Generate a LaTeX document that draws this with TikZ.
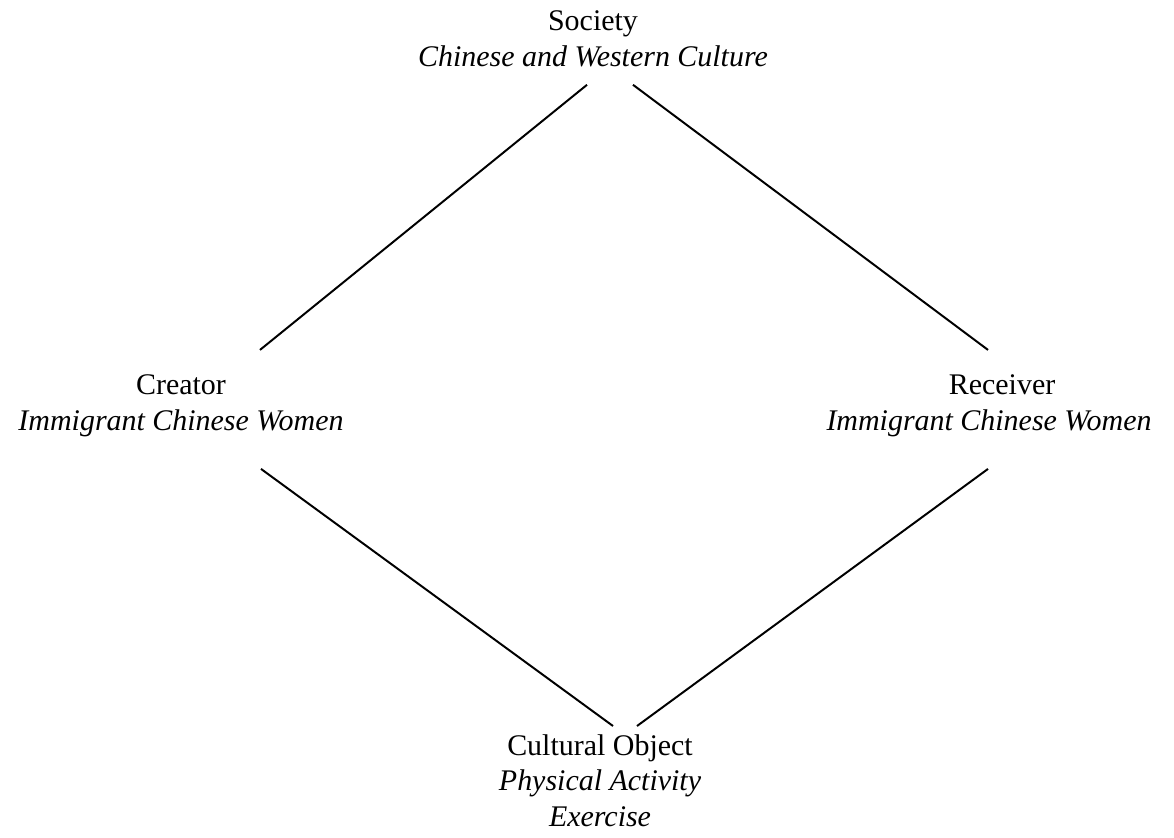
\documentclass[tikz,border=0pt]{standalone}
\usepackage{fontspec}
\setmainfont{Liberation Serif}
\usetikzlibrary{calc}
\tikzset{lbl/.style={align=center, inner sep=0pt, font=\fontsize{21.3}{25.25}\selectfont}}

\begin{document}
\begin{tikzpicture}[x=0.025cm, y=-0.025cm]
		%%%%% START %%%%%
		\useasboundingbox (0,0) rectangle (1174,837);
		
		\node[lbl] (soc) at (593,38.8) {Society\\\textit{Chinese and Western Culture}};
		\node[lbl] (crea) at (181,405.9) {Creator\hspace{2.2em}\\\textit{Immigrant Chinese Women}};
		\node[lbl] (recv) at (989,405.9) {\hspace{0.87em}Receiver\\\textit{Immigrant Chinese Women}};
		\node[lbl] (cult) at (600,780.5) {Cultural Object\\\textit{Physical Activity}\\\textit{Exercise}};
		
		\draw[line width=1.4pt] ($(soc)+(-6,46)$) -- ($(crea)+(79,-56)$);
		\draw[line width=1.4pt] ($(soc)+(40,46)$) -- ($(recv)+(-1,-56)$);
		\draw[line width=1.4pt] ($(crea)+(80,63)$) -- ($(cult)+(13,-54.5)$);
		\draw[line width=1.4pt] ($(recv)+(-1,63)$) -- ($(cult)+(37,-54.5)$);
		
		%%%%% END %%%%%
	\end{tikzpicture}
\end{document}
